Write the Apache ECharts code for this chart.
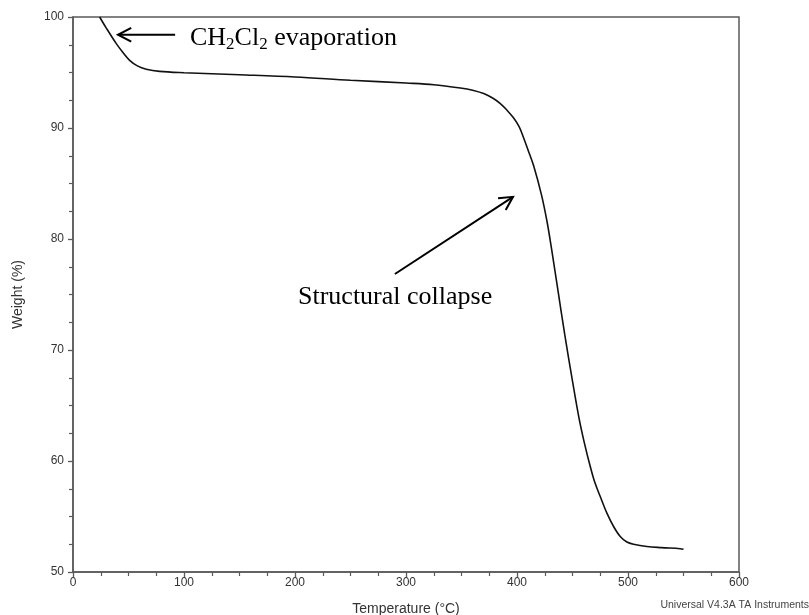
<!DOCTYPE html>
<html><head><meta charset="utf-8">
<script src="https://cdn.jsdelivr.net/npm/echarts@6/dist/echarts.min.js"></script>
<style>html,body{margin:0;padding:0;background:#fff}#c{width:809px;height:615px}</style>
</head><body><div id="c"></div>
<script>
// Temperature (°C) and weight (%)
const temperature = [24, 30, 39, 45, 51, 58, 66, 78, 100, 150, 200, 250, 300, 325, 349, 360, 370, 378, 385, 391, 397, 402, 406, 410, 415, 422, 427, 431, 437, 443, 450, 456, 461, 466, 470, 475, 481, 487, 493, 499, 505, 517, 530, 547, 550];
const weight = [100, 99.0, 97.6, 96.8, 96.1, 95.6, 95.3, 95.1, 94.98, 94.8, 94.6, 94.3, 94.05, 93.9, 93.6, 93.4, 93.1, 92.7, 92.2, 91.6, 90.9, 90.1, 89.1, 88.0, 86.6, 84.0, 81.6, 79.2, 75.3, 71.4, 67.2, 63.8, 61.5, 59.5, 58.1, 56.8, 55.3, 54.1, 53.2, 52.7, 52.5, 52.3, 52.2, 52.1, 52.05];

// Axis ranges
const xRange = [0, 600, 100];
const yRange = [50, 100, 10];

// Annotations (data coordinates)
const evapArrow = [[92, 98.4], [40.5, 98.4]];
const evapLabelAt = [105.4, 98.1];
const evapLabel = '{n|CH}{s|2}{n|Cl}{s|2}{n| evaporation}';
const collapseArrow = [[290, 76.85], [396.4, 83.8]];
const collapseLabelAt = [202.7, 74.75];
const collapseLabel = 'Structural collapse';
const footer = 'Universal V4.3A TA Instruments';

const chart = echarts.init(document.getElementById('c'), null, {renderer: 'canvas'});
const axisCommon = {
  axisLine: {show: true, lineStyle: {color: '#5a5a5a', width: 1.5}},
  axisTick: {show: true, inside: false, length: 5, lineStyle: {color: '#5a5a5a', width: 1.3}},
  minorTick: {show: true, splitNumber: 4, length: 4, lineStyle: {color: '#5a5a5a', width: 1.2}},
  splitLine: {show: false},
  nameTextStyle: {color: '#333', fontSize: 14, fontFamily: 'Liberation Sans'}
};
chart.setOption({
  animation: false,
  backgroundColor: '#fff',
  grid: {left: 73, right: 70, top: 17, bottom: 43, show: true, borderColor: '#5a5a5a', borderWidth: 1.5, containLabel: false, outerBoundsMode: 'none'},
  xAxis: Object.assign({}, axisCommon, {
    type: 'value', min: xRange[0], max: xRange[1], interval: xRange[2],
    name: 'Temperature (°C)', nameLocation: 'middle', nameGap: 30,
    axisLabel: {color: '#333', fontSize: 12, fontFamily: 'Liberation Sans', margin: 5}
  }),
  yAxis: Object.assign({}, axisCommon, {
    type: 'value', min: yRange[0], max: yRange[1], interval: yRange[2],
    name: 'Weight (%)', nameLocation: 'middle', nameGap: 48,
    axisLabel: {color: '#333', fontSize: 12, fontFamily: 'Liberation Sans', margin: 9}
  }),
  series: [{
    type: 'line',
    data: temperature.map((t, i) => [t, weight[i]]),
    showSymbol: false,
    smooth: 0.35,
    clip: true,
    lineStyle: {color: '#111', width: 1.6}
  }]
});

function px(p) { return chart.convertToPixel({gridIndex: 0}, p); }
function arrowGraphics(seg) {
  const a = px(seg[0]), b = px(seg[1]);
  const ang = Math.atan2(b[1] - a[1], b[0] - a[0]);
  const L = 15, h = Math.PI / 6.5;
  const p1 = [b[0] - L * Math.cos(ang - h), b[1] - L * Math.sin(ang - h)];
  const p2 = [b[0] - L * Math.cos(ang + h), b[1] - L * Math.sin(ang + h)];
  return [
    {type: 'line', shape: {x1: a[0], y1: a[1], x2: b[0], y2: b[1]}, style: {stroke: '#000', lineWidth: 2}},
    {type: 'polyline', shape: {points: [p1, b, p2]}, style: {stroke: '#000', lineWidth: 2, fill: null}}
  ];
}
const ep = px(evapLabelAt), cp = px(collapseLabelAt);
chart.setOption({
  graphic: [].concat(arrowGraphics(evapArrow), arrowGraphics(collapseArrow), [
    {type: 'text', x: ep[0], y: ep[1], style: {
      text: evapLabel, verticalAlign: 'middle', align: 'left',
      rich: {
        n: {fontSize: 26, fontFamily: 'Liberation Serif', lineHeight: 30, fill: '#000'},
        s: {fontSize: 17, fontFamily: 'Liberation Serif', lineHeight: 16, verticalAlign: 'bottom', fill: '#000'}
      }}},
    {type: 'text', x: cp[0], y: cp[1], style: {
      text: collapseLabel, verticalAlign: 'middle', align: 'left',
      fontSize: 26, fontFamily: 'Liberation Serif', fill: '#000'}},
    {type: 'text', right: 0, top: 600, style: {
      text: footer, fontSize: 10.5, fontFamily: 'Liberation Sans', fill: '#444'}}
  ])
});
</script></body></html>
